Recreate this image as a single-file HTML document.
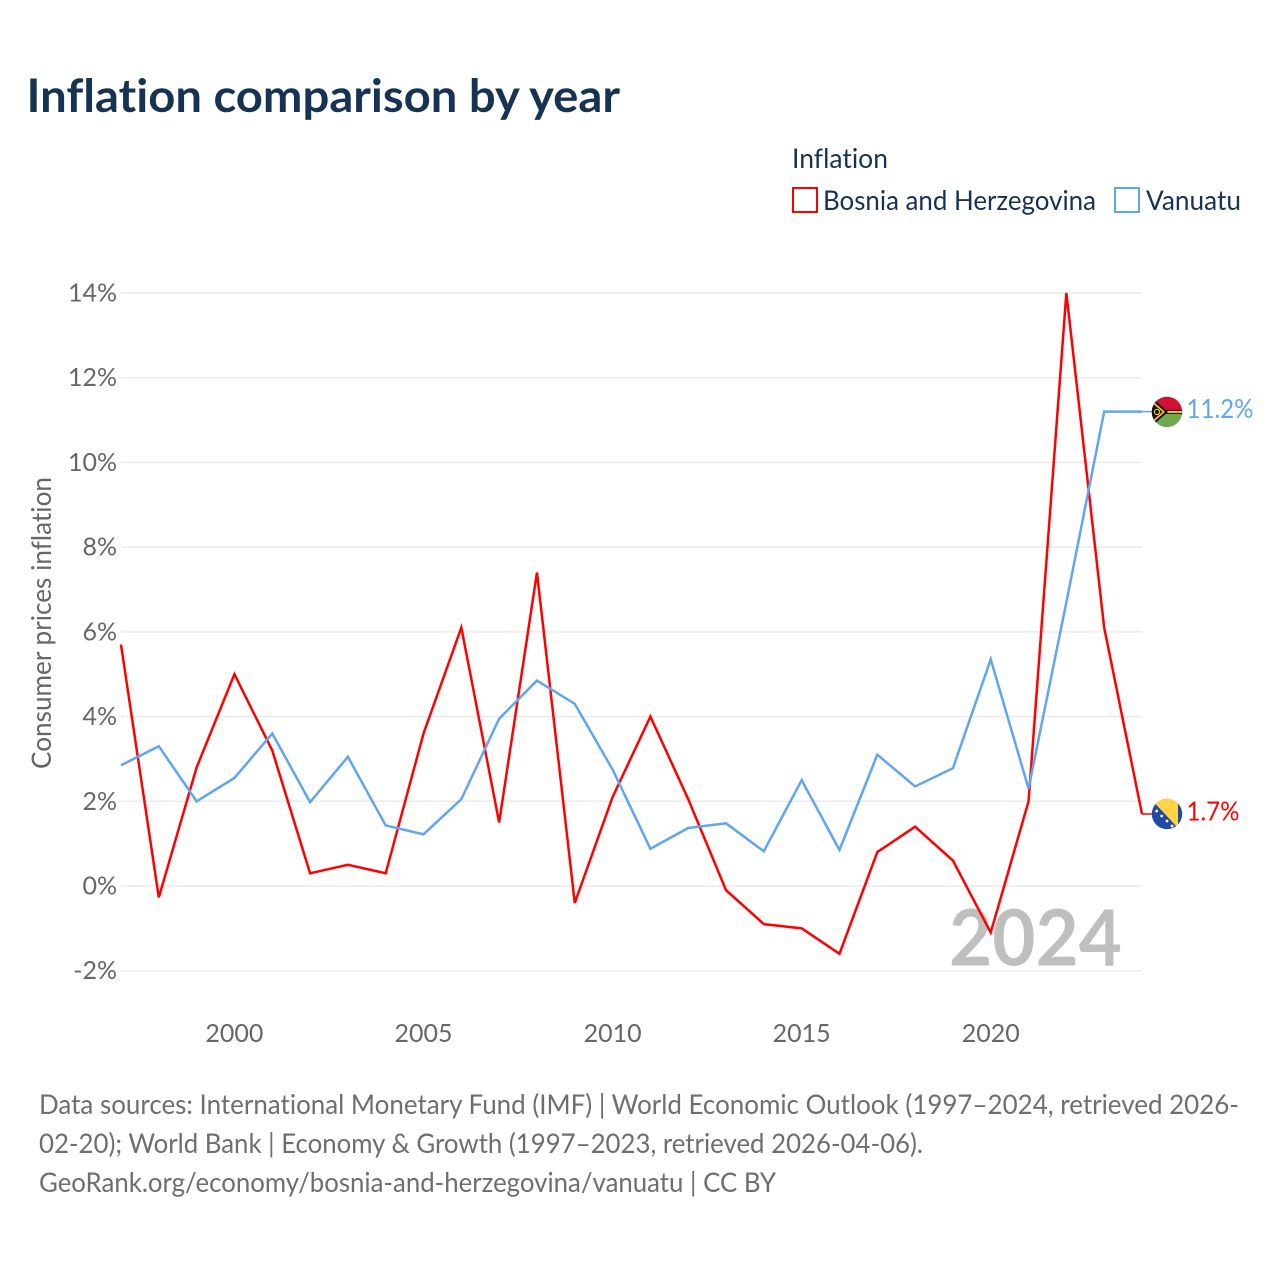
<!DOCTYPE html>
<html lang="en">
<head>
<meta charset="utf-8">
<title>Inflation comparison by year</title>
<style>
html,body{margin:0;padding:0;background:#fff;}
svg{display:block;}
text{font-family:"Lato","Carlito","Liberation Sans",sans-serif;font-variant-ligatures:none;font-feature-settings:"liga" 0,"clig" 0;}
</style>
</head>
<body>
<svg id="chart" xmlns="http://www.w3.org/2000/svg" width="1280" height="1280" viewBox="0 0 1280 1280">
  <defs>
    <clipPath id="flag-clip"><circle cx="0" cy="0" r="15.2"></circle></clipPath>
  </defs>
  <rect x="0" y="0" width="1280" height="1280" fill="#fff"></rect>
  <text x="26.5" y="112" font-size="46" font-weight="700" fill="#173353" textLength="593.5" lengthAdjust="spacingAndGlyphs">Inflation comparison by year</text>

  <g>
    <text x="792" y="168" font-size="27" fill="#173353" textLength="96" lengthAdjust="spacingAndGlyphs">Inflation</text>
    <g>
      <rect x="793" y="188" width="24" height="24" fill="#fff" stroke="#ff0000" stroke-width="2"></rect>
      <text x="823" y="210" font-size="27" fill="#173353" textLength="273" lengthAdjust="spacingAndGlyphs">Bosnia and Herzegovina</text>
    </g>
    <g>
      <rect x="1115" y="188" width="24" height="24" fill="#fff" stroke="#60a5ee" stroke-width="2"></rect>
      <text x="1146" y="210" font-size="27" fill="#173353" textLength="95" lengthAdjust="spacingAndGlyphs">Vanuatu</text>
    </g>
  </g>

  <g id="grid"></g>
  <g id="y-axis"></g>
  <g id="x-axis"></g>
  <text transform="translate(51 623) rotate(-90)" text-anchor="middle" font-size="27" fill="#666" textLength="292" lengthAdjust="spacingAndGlyphs">Consumer prices inflation</text>
  <text x="1122" y="965.5" text-anchor="end" font-size="78" font-weight="700" fill="#bfbfbf" textLength="173" lengthAdjust="spacingAndGlyphs">2024</text>
  <g id="series"></g>

  <g id="flag-vanuatu">
    <g clip-path="url(#flag-clip)">
      <rect x="-16" y="-16" width="32" height="16" fill="#d21034"></rect>
      <rect x="-16" y="0" width="32" height="16" fill="#6fa84f"></rect>
      <rect x="-16" y="-2" width="32" height="4" fill="#111"></rect>
      <rect x="-16" y="-1" width="32" height="2" fill="#f4c430"></rect>
      <polygon points="-16,-15 -16,15 1,0" fill="#111"></polygon>
      <polygon points="-16,-12.5 -16,12.5 -2,0" fill="#f4c430"></polygon>
      <polygon points="-16,-10 -16,10 -4.5,0" fill="#111"></polygon>
      <circle cx="-10" cy="0" r="2.6" fill="none" stroke="#f4c430" stroke-width="1.2"></circle>
    </g>
  </g>
  <g id="flag-bosnia">
    <g clip-path="url(#flag-clip)">
      <rect x="-16" y="-16" width="32" height="32" fill="#1f4aa8"></rect>
      <polygon points="-17,-16 11,-16 11,14" fill="#ffd546"></polygon>
      <circle cx="-10.3" cy="-3" r="1.4" fill="#fff"></circle>
      <circle cx="-5.3" cy="2" r="1.4" fill="#fff"></circle>
      <circle cx="0" cy="7" r="1.4" fill="#fff"></circle>
      <circle cx="5" cy="12" r="1.4" fill="#fff"></circle>
    </g>
  </g>
  <text id="value-vanuatu" x="1186.5" font-size="26" fill="#60a5ee" textLength="67" lengthAdjust="spacingAndGlyphs"></text>
  <text id="value-bosnia" x="1186.5" font-size="26" fill="#ff0000" textLength="53" lengthAdjust="spacingAndGlyphs"></text>

  <g font-size="27" fill="#6e6e6e">
    <text x="39" y="1114" textLength="1200" lengthAdjust="spacingAndGlyphs">Data sources: International Monetary Fund (IMF) | World Economic Outlook (1997–2024, retrieved 2026-</text>
    <text x="39" y="1153" textLength="884" lengthAdjust="spacingAndGlyphs">02-20); World Bank | Economy &amp; Growth (1997–2023, retrieved 2026-04-06).</text>
    <text x="39" y="1192" textLength="737" lengthAdjust="spacingAndGlyphs">GeoRank.org/economy/bosnia-and-herzegovina/vanuatu | CC BY</text>
  </g>
</svg>
<script>
const years = [1997,1998,1999,2000,2001,2002,2003,2004,2005,2006,2007,2008,2009,2010,2011,2012,2013,2014,2015,2016,2017,2018,2019,2020,2021,2022,2023,2024];
const bosniaValues = [5.7,-0.27,2.8,5.0,3.2,0.3,0.5,0.3,3.6,6.1,1.5,7.4,-0.4,2.1,4.0,2.05,-0.1,-0.9,-1.0,-1.6,0.8,1.4,0.6,-1.1,2.0,14.0,6.1,1.7];
const vanuatuValues = [2.85,3.3,2.0,2.55,3.6,1.98,3.05,1.43,1.22,2.05,3.95,4.85,4.3,2.75,0.88,1.37,1.48,0.82,2.5,0.85,3.1,2.35,2.78,5.35,2.3,6.7,11.2,11.2];
const yTicks = [-2,0,2,4,6,8,10,12,14];
const xTicks = [2000,2005,2010,2015,2020];

const SVG_NS = 'http://www.w3.org/2000/svg';
function xScale(year){ return 121 + (year - 1997) * (1142 - 121) / 27; }
function yScale(v){ return 886 - v * (886 - 293) / 14; }

const grid = document.getElementById('grid');
const yAxis = document.getElementById('y-axis');
const xAxis = document.getElementById('x-axis');
const seriesGroup = document.getElementById('series');

yTicks.forEach(function(t){
  const line = document.createElementNS(SVG_NS, 'line');
  
  
  line.setAttribute('x1', 121);
  line.setAttribute('x2', 1142);
  line.setAttribute('y1', yScale(t));
  line.setAttribute('y2', yScale(t));
  line.setAttribute('stroke', '#ebebeb');
  line.setAttribute('stroke-width', '1.5');
  grid.appendChild(line);

  const label = document.createElementNS(SVG_NS, 'text');
  
  
  label.setAttribute('x', 117);
  label.setAttribute('y', yScale(t) + 8.5);
  label.setAttribute('text-anchor', 'end');
  label.setAttribute('font-size', '25');
  label.setAttribute('fill', '#666');
  label.textContent = t + '%';
  yAxis.appendChild(label);
});

xTicks.forEach(function(t){
  const label = document.createElementNS(SVG_NS, 'text');
  
  
  label.setAttribute('x', xScale(t));
  label.setAttribute('y', 1042);
  label.setAttribute('text-anchor', 'middle');
  label.setAttribute('font-size', '25');
  label.setAttribute('fill', '#666');
  label.textContent = t;
  xAxis.appendChild(label);
});

function linePoints(values){
  return values.map(function(v, i){
    return xScale(years[i]).toFixed(2) + ',' + yScale(v).toFixed(2);
  }).join(' ');
}

const bosniaLine = document.createElementNS(SVG_NS, 'polyline');


bosniaLine.setAttribute('points', linePoints(bosniaValues));
bosniaLine.setAttribute('fill', 'none');
bosniaLine.setAttribute('stroke', '#ff0000');
bosniaLine.setAttribute('stroke-width', '2.5');
seriesGroup.appendChild(bosniaLine);

const vanuatuLine = document.createElementNS(SVG_NS, 'polyline');


vanuatuLine.setAttribute('points', linePoints(vanuatuValues));
vanuatuLine.setAttribute('fill', 'none');
vanuatuLine.setAttribute('stroke', '#60a5ee');
vanuatuLine.setAttribute('stroke-width', '2.5');
seriesGroup.appendChild(vanuatuLine);

const lastBosnia = bosniaValues[bosniaValues.length - 1];
const lastVanuatu = vanuatuValues[vanuatuValues.length - 1];

const connectorBosnia = document.createElementNS(SVG_NS, 'line');


connectorBosnia.setAttribute('x1', 1142);
connectorBosnia.setAttribute('x2', 1167);
connectorBosnia.setAttribute('y1', yScale(lastBosnia));
connectorBosnia.setAttribute('y2', yScale(lastBosnia));
connectorBosnia.setAttribute('stroke', '#ff0000');
connectorBosnia.setAttribute('stroke-width', '1.5');
seriesGroup.appendChild(connectorBosnia);

const connectorVanuatu = document.createElementNS(SVG_NS, 'line');


connectorVanuatu.setAttribute('x1', 1142);
connectorVanuatu.setAttribute('x2', 1167);
connectorVanuatu.setAttribute('y1', yScale(lastVanuatu));
connectorVanuatu.setAttribute('y2', yScale(lastVanuatu));
connectorVanuatu.setAttribute('stroke', '#60a5ee');
connectorVanuatu.setAttribute('stroke-width', '1.5');
seriesGroup.appendChild(connectorVanuatu);

document.getElementById('flag-vanuatu').setAttribute('transform', 'translate(1167 ' + (yScale(lastVanuatu) + 0.3) + ')');
document.getElementById('flag-bosnia').setAttribute('transform', 'translate(1167 ' + yScale(lastBosnia) + ')');

const valueVanuatu = document.getElementById('value-vanuatu');
valueVanuatu.setAttribute('y', yScale(lastVanuatu) + 6.5);
valueVanuatu.textContent = lastVanuatu.toFixed(1) + '%';
const valueBosnia = document.getElementById('value-bosnia');
valueBosnia.setAttribute('y', yScale(lastBosnia) + 6.5);
valueBosnia.textContent = lastBosnia.toFixed(1) + '%';
</script>
</body>
</html>
